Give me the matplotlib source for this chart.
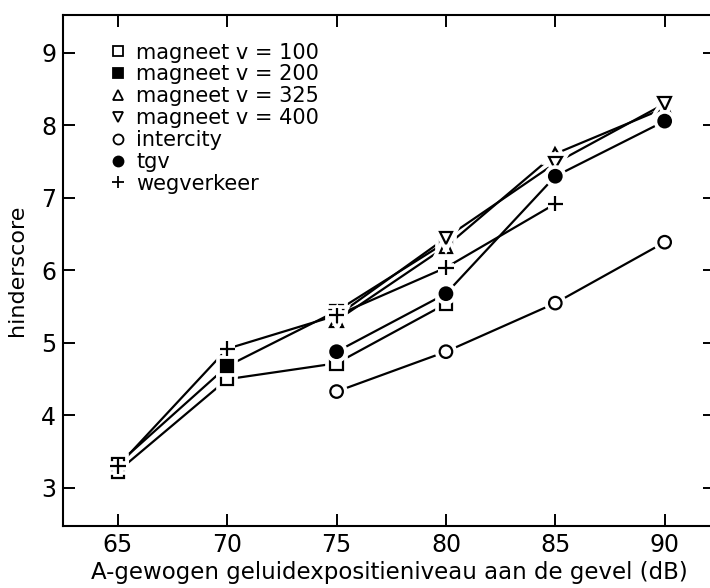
import matplotlib
matplotlib.use('Agg')
import matplotlib.pyplot as plt
import matplotlib.patheffects as pe
from matplotlib.lines import Line2D

plt.rcParams['font.family'] = ['DejaVu Sans']

# geluidniveau (dB) en hinderscores per bron
x_100 = [65, 70, 75, 80]
y_100 = [3.23, 4.50, 4.72, 5.54]

x_200 = [65, 70, 75, 80]
y_200 = [3.33, 4.68, 5.44, 6.39]

x_325 = [75, 80, 85, 90]
y_325 = [5.31, 6.33, 7.61, 8.24]

x_400 = [75, 80, 85, 90]
y_400 = [5.37, 6.45, 7.48, 8.30]

x_ic = [75, 80, 85, 90]
y_ic = [4.33, 4.88, 5.55, 6.39]

x_tgv = [75, 80, 85, 90]
y_tgv = [4.88, 5.68, 7.30, 8.06]

x_weg = [65, 70, 75, 80, 85]
y_weg = [3.30, 4.92, 5.38, 6.04, 6.92]

labels = ['magneet v = 100', 'magneet v = 200',
          'magneet v = 325', 'magneet v = 400',
          'intercity', 'tgv', 'wegverkeer']

xticks = [65, 70, 75, 80, 85, 90]
yticks = [3, 4, 5, 6, 7, 8, 9]

series = [
    (x_100, y_100, 's', 'white', 9),
    (x_200, y_200, 's', 'black', 9),
    (x_325, y_325, '^', 'white', 9),
    (x_400, y_400, 'v', 'white', 9),
    (x_ic, y_ic, 'o', 'white', 9),
    (x_tgv, y_tgv, 'o', 'black', 9),
    (x_weg, y_weg, '+', 'black', 11),
]

fig = plt.figure(figsize=(7.1, 5.88), dpi=100)
ax = fig.add_axes([0.089, 0.106, 0.918, 0.868])

# eerst de lijnen, dan de markers met een witte rand zodat de lijnen vrijliggen
for xs, ys, m, fc, ms in series:
    ax.plot(xs, ys, '-', color='black', lw=1.6, zorder=2)
for xs, ys, m, fc, ms in series:
    halo = [pe.Stroke(linewidth=7, foreground='white'), pe.Normal()]
    ax.plot(xs, ys, linestyle='none', marker=m, markersize=ms,
            markerfacecolor=fc, markeredgecolor='black', markeredgewidth=1.6,
            path_effects=halo, zorder=3)

ax.set_xlim(62.5, 92.3)
ax.set_ylim(2.48, 9.52)
ax.set_xticks(xticks)
ax.set_yticks(yticks)
ax.tick_params(direction='in', length=8.5, width=1.4, labelsize=17,
               top=True, right=True, pad=5)
for s in ax.spines.values():
    s.set_linewidth(1.5)

ax.set_xlabel('A-gewogen geluidexpositieniveau aan de gevel (dB)', fontsize=16.5, labelpad=3)
ax.set_ylabel('hinderscore', fontsize=16)
ax.yaxis.set_label_coords(-0.056, 0.5)

handles = [Line2D([], [], linestyle='none', marker=m, markersize=ms * 0.8,
                  markerfacecolor=fc, markeredgecolor='black', markeredgewidth=1.3)
           for xs, ys, m, fc, ms in series]
ax.legend(handles, labels, loc='upper left', bbox_to_anchor=(0.058, 0.963),
          frameon=False, fontsize=15, handlelength=0.8, handletextpad=0.5,
          labelspacing=0.09, borderaxespad=0)

fig.savefig('out.png', dpi=100)
